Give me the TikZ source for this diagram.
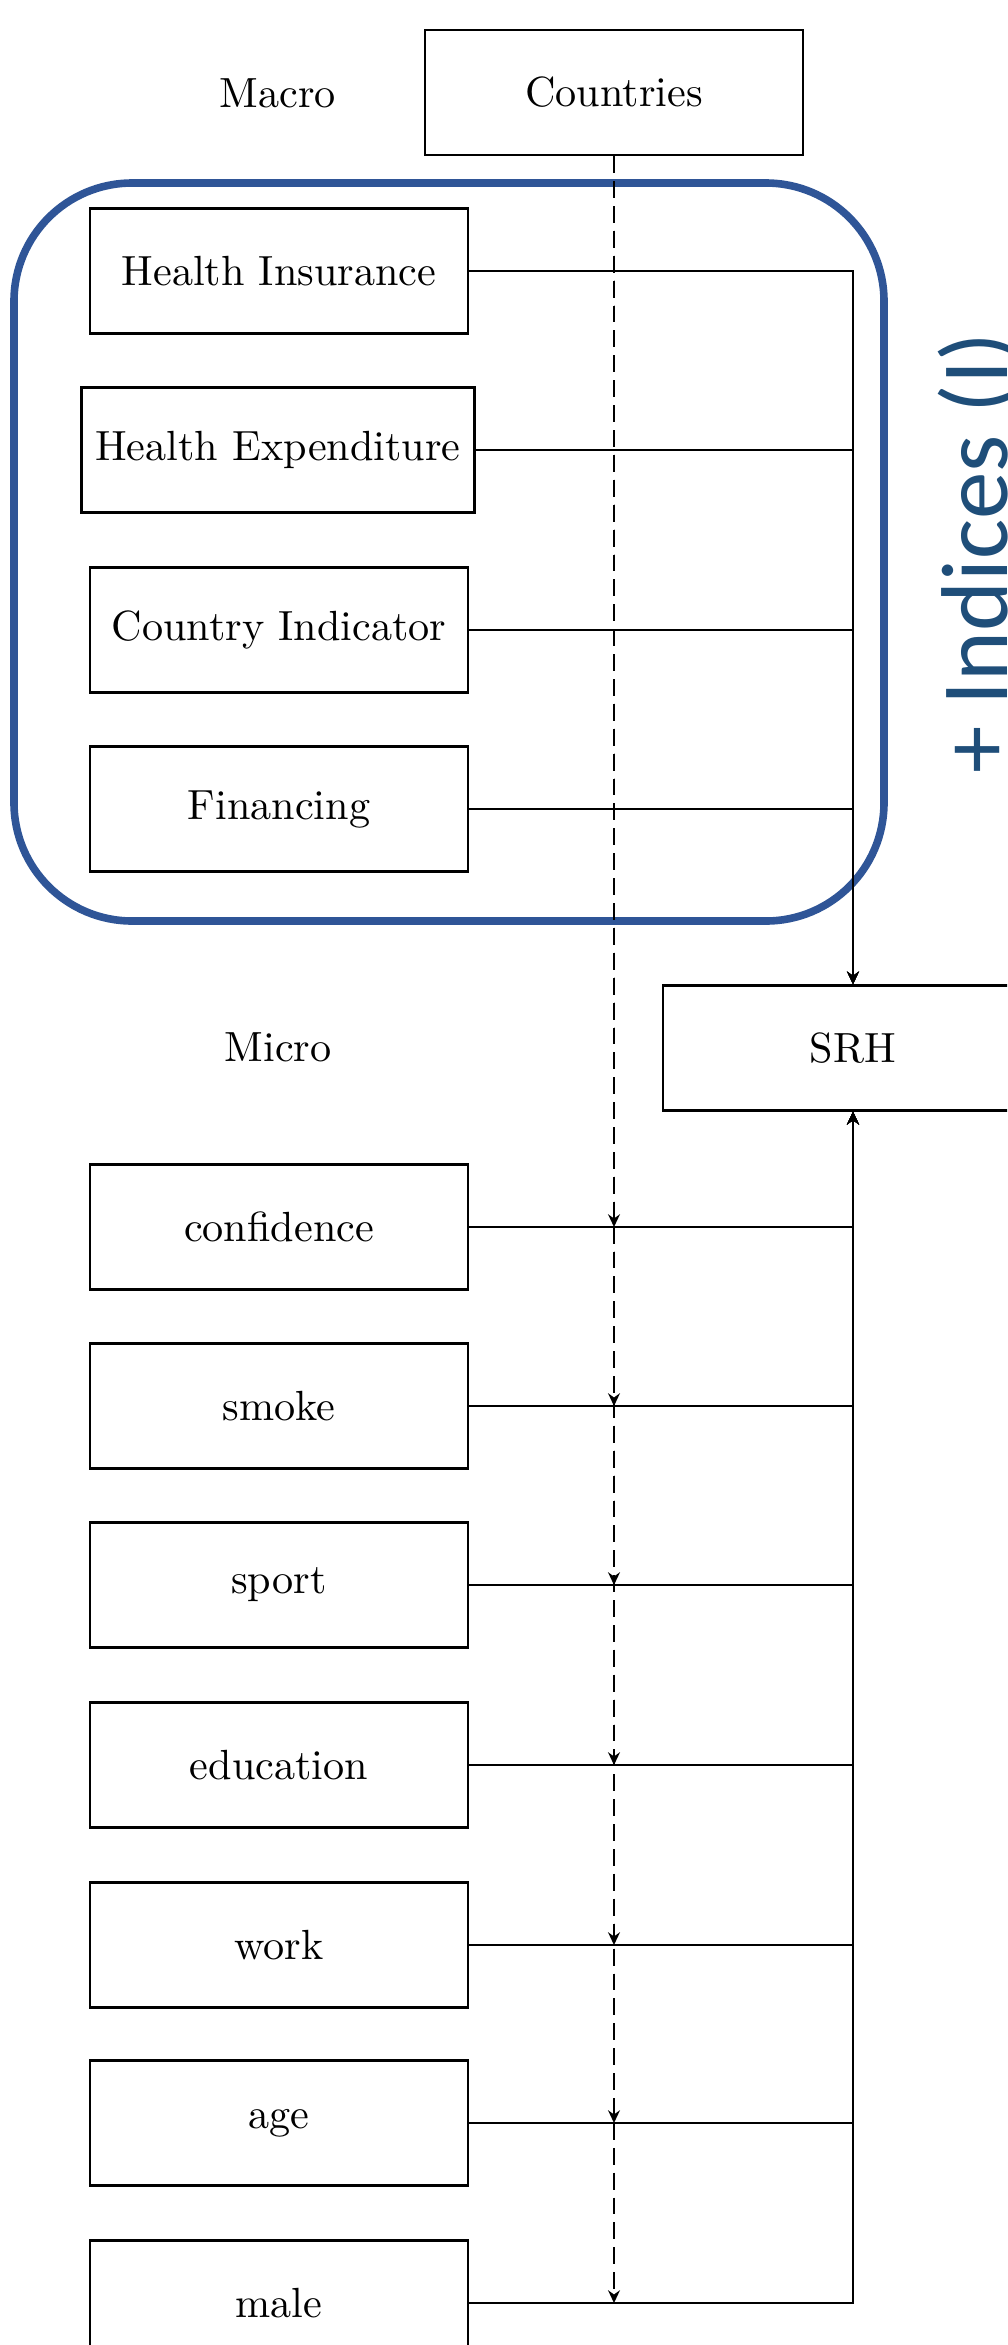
\documentclass[tikz,border=0pt]{standalone}
\usepackage{fontspec}
\newfontfamily\calib{Carlito}
\usetikzlibrary{arrows.meta}
\definecolor{frameblue}{HTML}{2F5597}
\definecolor{textblue}{HTML}{1F4E79}
\begin{document}
\begin{tikzpicture}[x=0.237pt,y=-0.237pt,
  varbox/.style={draw,line width=0.6pt,minimum width=89.6pt,minimum height=29.6pt,inner sep=3.33pt},
  link/.style={line width=0.6pt,-{Stealth[length=3pt,width=2.8pt]}},
  dlink/.style={link,dash pattern=on 4pt off 1.9pt},
  lbl/.style={inner sep=0pt}]
\useasboundingbox (0,0) rectangle (1007,2345);
\clip (0,0) rectangle (1007,2345);
\draw[frameblue,line width=1.8pt,rounded corners=28pt] (14,183) rectangle (884,921);
\node[lbl] (macro) at (278,93) {Macro};
\node[lbl] (micro) at (278,1047) {Micro};
\node[varbox] (countries) at (614,92.5) {Countries};
\node[varbox] (hi) at (279,271) {Health Insurance};
\node[varbox] (he) at (278,450) {Health Expenditure};
\node[varbox] (ci) at (279,630) {Country Indicator};
\node[varbox] (fin) at (279,809) {Financing};
\node[varbox,minimum width=90pt] (srh) at (853,1048) {SRH};
\node[varbox] (conf) at (279,1227) {confidence};
\node[varbox] (smoke) at (279,1406) {smoke};
\node[varbox] (sport) at (279,1585) {sport};
\node[varbox] (edu) at (279,1765) {education};
\node[varbox] (work) at (279,1945) {work};
\node[varbox] (age) at (279,2123) {age};
\node[varbox] (male) at (279,2303) {male};
\node[textblue,rotate=90,anchor=base,inner sep=0pt,font=\calib\fontsize{22.5}{27}\selectfont] (indices) at (1007,553) {+ Indices (I)};
\foreach \m in {hi,he,ci,fin}{
  \draw[link] (\m.east) -| (srh.north);
}
\foreach \m in {conf,smoke,sport,edu,work,age,male}{
  \draw[link] (\m.east) -| (srh.south);
  \draw[dlink] (countries.south) -- (countries.south |- \m.east);
}
\end{tikzpicture}
\end{document}
